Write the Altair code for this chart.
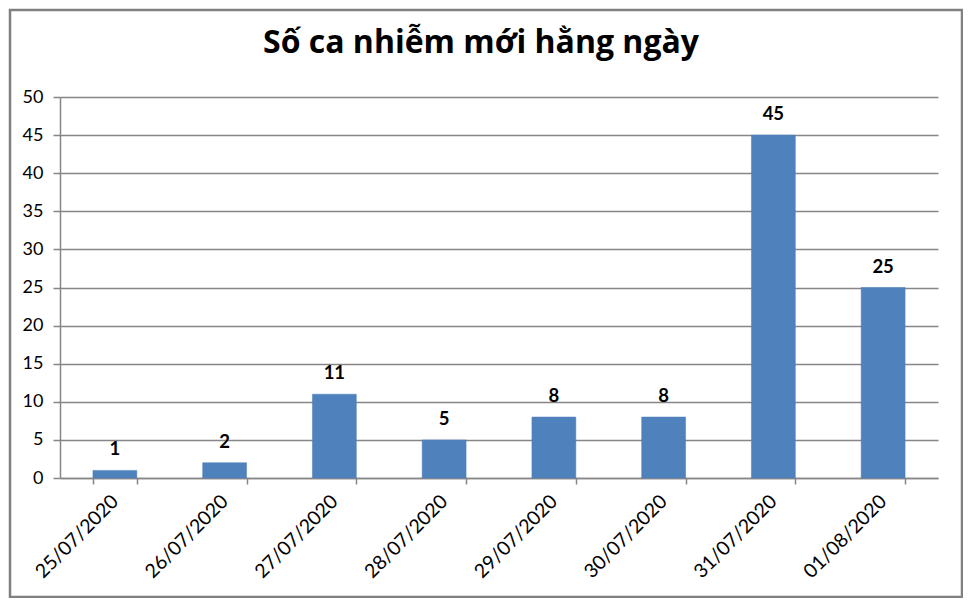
import altair as alt
import pandas as pd

dates = ["25/07/2020", "26/07/2020", "27/07/2020", "28/07/2020",
         "29/07/2020", "30/07/2020", "31/07/2020", "01/08/2020"]
cases = [1, 2, 11, 5, 8, 8, 45, 25]
y_ticks = [0, 5, 10, 15, 20, 25, 30, 35, 40, 45, 50]
title_text = "Số ca nhiễm mới hằng ngày"

df = pd.DataFrame({"date": dates, "cases": cases})

FONT = "Lato"
GRAY = "#868686"

x_enc = alt.X("date:N", sort=dates, title=None,
              scale=alt.Scale(paddingInner=0.6, paddingOuter=0.3),
              axis=alt.Axis(labelAngle=-45, labelAlign="right", labelBaseline="middle",
                            labelFontSize=19.5, labelFont=FONT, labelColor="#000000",
                            tickBand="extent", tickSize=6, tickColor=GRAY, tickWidth=1.5,
                            domainColor=GRAY, domainWidth=1.5, labelPadding=14))
y_enc = alt.Y("cases:Q", title=None,
              scale=alt.Scale(domain=[0, 50], nice=False),
              axis=alt.Axis(values=y_ticks, labelFontSize=18, labelFont=FONT,
                            labelColor="#000000", tickSize=7, tickColor=GRAY, tickWidth=1.5,
                            domainColor=GRAY, domainWidth=1.5, gridColor=GRAY,
                            gridWidth=1.5, labelPadding=10))

base = alt.Chart(df)

bars = base.mark_bar(color="#4F81BD", stroke="#4A7EBB", strokeWidth=0.5).encode(x=x_enc, y=y_enc)
labels = base.mark_text(dy=-21, fontSize=18.5, fontWeight="bold", font=FONT,
                        color="#000000").encode(x=x_enc, y=y_enc, text="cases:Q")

frame_df = pd.DataFrame({"title": [title_text]})
border = alt.Chart(frame_df).mark_rect(
    fill=None, stroke="#808080", strokeWidth=2.5
).encode(x=alt.value(-50), x2=alt.value(902), y=alt.value(-87), y2=alt.value(500))

title = alt.Chart(frame_df).mark_text(
    fontSize=32, font="Open Sans", fontWeight="bold", color="#000000",
    align="center", baseline="alphabetic"
).encode(x=alt.value(421), y=alt.value(-44), text="title:N")

chart = alt.layer(border, title, bars, labels).properties(
    width=878, height=381,
    autosize=alt.AutoSizeParams(type="none"),
    padding={"left": 52, "top": 89, "right": 25, "bottom": 120},
).configure_view(stroke=None).configure_axis(grid=False).configure_axisY(grid=True)

chart.save("out.html", embed_options={"renderer": "svg", "actions": False})
